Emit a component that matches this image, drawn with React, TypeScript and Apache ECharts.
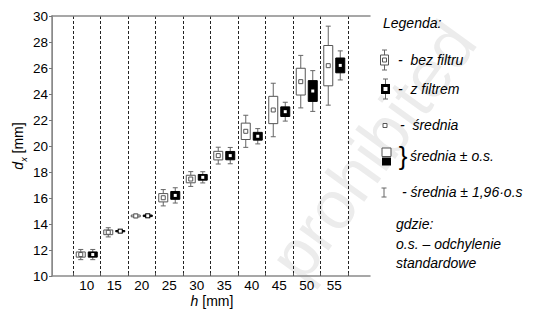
import React, { useEffect, useRef } from 'react';
import * as echarts from 'echarts';

const categories = ['10', '15', '20', '25', '30', '35', '40', '45', '50', '55'];
const meanNoFilter = [11.65, 13.36, 14.62, 16.02, 17.46, 19.26, 21.13, 22.77, 24.95, 26.18];
const sdNoFilter = [0.2, 0.18, 0.07, 0.32, 0.29, 0.33, 0.63, 1.05, 1.03, 1.55];
const meanFilter = [11.65, 13.45, 14.63, 16.2, 17.59, 19.26, 20.75, 22.64, 24.23, 26.2];
const sdFilter = [0.2, 0.05, 0.06, 0.3, 0.22, 0.32, 0.3, 0.37, 0.8, 0.57];
const yMin = 10;
const yMax = 30;
const yStep = 2;

const FONT = '"Liberation Sans", Arial, sans-serif';
const GRAY = '#8a8a8a';
const WHISK = '#666666';

function makeRender(kind: number) {
  return (params: any, api: any) => {
    const idx = api.value(0);
    const mean = api.value(1);
    const sd = api.value(2);
    const c = api.coord([idx, mean]);
    const cx = c[0] + (kind === 0 ? -6 : 6);
    const yb1 = api.coord([idx, mean + sd])[1];
    const yb0 = api.coord([idx, mean - sd])[1];
    const yw1 = api.coord([idx, mean + 1.96 * sd])[1];
    const yw0 = api.coord([idx, mean - 1.96 * sd])[1];
    const bw = 9;
    const cap = 5;
    const ws = { stroke: WHISK, lineWidth: 1 };
    const children: any[] = [
      { type: 'line', shape: { x1: cx, y1: yw1, x2: cx, y2: yb1 }, style: ws },
      { type: 'line', shape: { x1: cx, y1: yb0, x2: cx, y2: yw0 }, style: ws },
      { type: 'line', shape: { x1: cx - cap / 2, y1: yw1, x2: cx + cap / 2, y2: yw1 }, style: ws },
      { type: 'line', shape: { x1: cx - cap / 2, y1: yw0, x2: cx + cap / 2, y2: yw0 }, style: ws },
    ];
    if (kind === 0) {
      children.push({
        type: 'rect',
        shape: { x: cx - bw / 2, y: yb1, width: bw, height: Math.max(yb0 - yb1, 0.8) },
        style: { fill: '#ffffff', stroke: '#555555', lineWidth: 1 },
      });
      children.push({
        type: 'rect',
        shape: { x: cx - 2, y: c[1] - 2, width: 4, height: 4 },
        style: { fill: '#ffffff', stroke: '#555555', lineWidth: 1 },
      });
    } else {
      children.push({
        type: 'rect',
        shape: { x: cx - bw / 2, y: yb1, width: bw, height: Math.max(yb0 - yb1, 0.8) },
        style: { fill: '#000000', stroke: '#000000', lineWidth: 1 },
      });
      children.push({
        type: 'rect',
        shape: { x: cx - 2.5, y: c[1] - 2.5, width: 5, height: 5 },
        style: { fill: '#000000' },
      });
      children.push({
        type: 'rect',
        shape: { x: cx - 1.5, y: c[1] - 1.5, width: 3, height: 3 },
        style: { fill: '#ffffff' },
      });
    }
    return { type: 'group', children };
  };
}

function legendBox(x: number, y: number, filled: boolean) {
  const ws = { stroke: WHISK, lineWidth: 1 };
  const els: any[] = [
    { type: 'line', shape: { x1: x, y1: y - 10, x2: x, y2: y + 10 }, style: ws },
    { type: 'line', shape: { x1: x - 2.5, y1: y - 10, x2: x + 2.5, y2: y - 10 }, style: ws },
    { type: 'line', shape: { x1: x - 2.5, y1: y + 10, x2: x + 2.5, y2: y + 10 }, style: ws },
  ];
  if (filled) {
    els.push({ type: 'rect', shape: { x: x - 4.5, y: y - 5, width: 9, height: 10 }, style: { fill: '#000' } });
    els.push({ type: 'rect', shape: { x: x - 2, y: y - 2, width: 4, height: 4 }, style: { fill: '#fff' } });
  } else {
    els.push({ type: 'rect', shape: { x: x - 4, y: y - 5, width: 8, height: 10 }, style: { fill: '#fff', stroke: '#555', lineWidth: 1 } });
    els.push({ type: 'rect', shape: { x: x - 2, y: y - 2, width: 4, height: 4 }, style: { fill: '#fff', stroke: '#555', lineWidth: 1 } });
  }
  return els;
}

function legendText(x: number, y: number, text: string) {
  return {
    type: 'text',
    x,
    y,
    style: { text, font: `italic 14px ${FONT}`, fill: '#000', textVerticalAlign: 'middle', textAlign: 'left' },
  };
}

export default function App() {
  const ref = useRef<HTMLDivElement>(null);
  useEffect(() => {
    if (!ref.current) return;
    const chart = echarts.init(ref.current, undefined, { renderer: 'svg' });
    const dataOpen = categories.map((_, i) => [i, meanNoFilter[i], sdNoFilter[i]]);
    const dataFilled = categories.map((_, i) => [i, meanFilter[i], sdFilter[i]]);
    const top = 16;
    const height = 260;
    const option: any = {
      animation: false,
      backgroundColor: '#ffffff',
      grid: [
        { left: 52, top, width: 318, height },
        { left: 73, top, width: 275, height },
      ],
      xAxis: [
        {
          gridIndex: 0, type: 'value', min: 0, max: 1, position: 'bottom',
          axisLine: { show: true, lineStyle: { color: GRAY, width: 1.5 } },
          axisTick: { show: false }, axisLabel: { show: false }, splitLine: { show: false },
        },
        {
          gridIndex: 0, type: 'value', min: 0, max: 1, position: 'top',
          axisLine: { show: true, lineStyle: { color: GRAY, width: 1.5 } },
          axisTick: { show: false }, axisLabel: { show: false }, splitLine: { show: false },
        },
        {
          gridIndex: 1, type: 'category', data: categories, position: 'bottom', boundaryGap: true,
          axisLine: { show: false },
          axisTick: { show: true, inside: true, length: 3, lineStyle: { color: '#555' } },
          axisLabel: { color: '#000', fontSize: 13.5, fontFamily: FONT, margin: 2 },
          splitLine: { show: true, lineStyle: { color: '#222', width: 1, type: [3, 2] } },
        },
      ],
      yAxis: [
        {
          gridIndex: 0, type: 'value', min: yMin, max: yMax, interval: yStep, position: 'left',
          axisLine: { show: true, lineStyle: { color: GRAY, width: 1.5 } },
          axisTick: { show: true, inside: false, length: 3, lineStyle: { color: '#555' } },
          axisLabel: { color: '#000', fontSize: 13.5, fontFamily: FONT, margin: 4 },
          splitLine: { show: false },
        },
        {
          gridIndex: 0, type: 'value', min: yMin, max: yMax, interval: yStep, position: 'right',
          axisLine: { show: true, lineStyle: { color: GRAY, width: 1 } },
          axisTick: { show: true, inside: true, length: 3, lineStyle: { color: '#777' } },
          axisLabel: { show: false },
          splitLine: { show: false },
        },
        {
          gridIndex: 1, type: 'value', min: yMin, max: yMax, show: false,
        },
      ],
      series: [
        {
          name: 'bez filtru', type: 'custom', xAxisIndex: 2, yAxisIndex: 2,
          renderItem: makeRender(0), data: dataOpen, encode: { x: 0, y: 1 }, z: 3,
        },
        {
          name: 'z filtrem', type: 'custom', xAxisIndex: 2, yAxisIndex: 2,
          renderItem: makeRender(1), data: dataFilled, encode: { x: 0, y: 1 }, z: 3,
        },
      ],
      graphic: [
        {
          type: 'text', x: 372, y: 150, rotation: (54 * Math.PI) / 180, z: -10, silent: true,
          style: { text: 'prohibited', font: `68px ${FONT}`, fill: '#ececec', textAlign: 'center', textVerticalAlign: 'middle' },
        },
        {
          type: 'text', x: 18, y: 146, rotation: Math.PI / 2,
          style: {
            text: '{d|d}{s|x}{n| [mm]}',
            textAlign: 'center', textVerticalAlign: 'middle',
            rich: {
              d: { font: `italic 14px ${FONT}`, fill: '#000', lineHeight: 20 },
              s: { font: `italic 9px ${FONT}`, fill: '#000', lineHeight: 20, verticalAlign: 'bottom' },
              n: { font: `14px ${FONT}`, fill: '#000', lineHeight: 20 },
            },
          },
        },
        {
          type: 'text', x: 212, y: 300.5,
          style: {
            text: '{i|h}{n| [mm]}', textAlign: 'center', textVerticalAlign: 'middle',
            rich: {
              i: { font: `italic 14px ${FONT}`, fill: '#000', lineHeight: 15 },
              n: { font: `14px ${FONT}`, fill: '#000', lineHeight: 15 },
            },
          },
        },
        legendText(383, 23, 'Legenda:'),
        ...legendBox(384.5, 60, false),
        legendText(398, 60, '-  bez filtru'),
        ...legendBox(385.5, 89, true),
        legendText(398, 89, '-  z filtrem'),
        { type: 'rect', shape: { x: 383, y: 123.5, width: 4, height: 4 }, style: { fill: '#fff', stroke: '#555', lineWidth: 1 } },
        legendText(400, 125, '-  średnia'),
        { type: 'rect', shape: { x: 382, y: 148, width: 9, height: 8.5 }, style: { fill: '#fff', stroke: '#555', lineWidth: 1 } },
        { type: 'rect', shape: { x: 382, y: 157.5, width: 9, height: 8 }, style: { fill: '#000' } },
        {
          type: 'text', x: 403, y: 156,
          style: { text: '}', font: `26px ${FONT}`, fill: '#000', textAlign: 'center', textVerticalAlign: 'middle' },
        },
        legendText(410, 156, 'średnia ± o.s.'),
        { type: 'line', shape: { x1: 384, y1: 188, x2: 384, y2: 197 }, style: { stroke: WHISK, lineWidth: 1 } },
        { type: 'line', shape: { x1: 381.5, y1: 188, x2: 386.5, y2: 188 }, style: { stroke: WHISK, lineWidth: 1 } },
        { type: 'line', shape: { x1: 381.5, y1: 197, x2: 386.5, y2: 197 }, style: { stroke: WHISK, lineWidth: 1 } },
        legendText(402, 192, '- średnia ± 1,96·o.s'),
        legendText(396, 224, 'gdzie:'),
        legendText(396, 244, 'o.s. – odchylenie'),
        legendText(396, 263, 'standardowe'),
      ],
    };
    chart.setOption(option);
    return () => chart.dispose();
  }, []);
  return <div ref={ref} style={{ width: 539, height: 309, position: 'absolute', left: 0, top: 0 }} />;
}
